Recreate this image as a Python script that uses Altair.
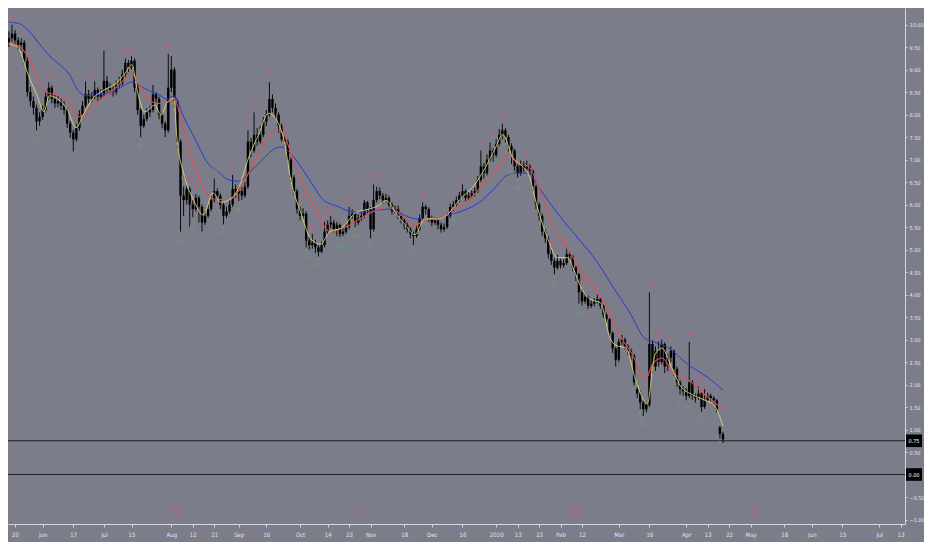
import altair as alt
import pandas as pd

# ---------------- data ----------------
opens = [9.60, 9.70, 9.80, 9.65, 9.55, 9.60, 9.20, 8.50, 8.30, 8.15,
         7.85, 7.95, 8.10, 8.40, 8.60, 8.35, 8.25, 8.30, 8.20, 8.10,
         7.80, 7.60, 7.45, 7.70, 8.00, 8.20, 8.45, 8.35, 8.40, 8.55,
         8.40, 8.45, 8.75, 8.60, 8.55, 8.50, 8.65, 8.70, 8.90, 9.15,
         9.05, 9.20, 8.60, 8.10, 7.75, 7.90, 8.05, 8.10, 8.45, 8.35,
         8.00, 7.80, 7.65, 8.60, 9.00, 8.30, 7.40, 6.20, 6.10, 6.35,
         6.00, 5.90, 6.15, 5.95, 5.60, 5.75, 5.90, 6.10, 6.30, 6.20,
         6.00, 5.75, 5.85, 6.00, 6.35, 6.25, 6.30, 6.20, 6.40, 7.40,
         7.20, 7.55, 7.40, 7.55, 7.85, 8.00, 8.35, 8.15, 8.00, 7.75,
         7.45, 7.40, 7.00, 6.60, 6.30, 5.90, 5.75, 5.80, 5.20, 5.10,
         5.15, 5.05, 4.95, 5.10, 5.40, 5.55, 5.60, 5.45, 5.55, 5.35,
         5.40, 5.50, 5.75, 5.80, 5.60, 5.70, 5.75, 6.05, 5.90, 5.45,
         6.10, 6.30, 6.20, 6.10, 6.15, 6.00, 5.85, 5.90, 5.75, 5.65,
         5.55, 5.45, 5.35, 5.30, 5.45, 5.70, 5.95, 5.90, 5.70, 5.60,
         5.65, 5.55, 5.45, 5.50, 5.75, 5.95, 6.00, 6.10, 6.20, 6.30,
         6.15, 6.20, 6.25, 6.30, 6.55, 6.85, 6.70, 7.00, 7.20, 7.10,
         7.35, 7.55, 7.65, 7.50, 7.30, 7.20, 6.85, 6.70, 6.90, 6.80,
         6.85, 6.75, 6.40, 6.00, 5.75, 5.40, 5.25, 4.90, 4.75, 4.60,
         4.75, 4.65, 4.70, 4.90, 4.85, 4.60, 4.45, 4.05, 3.85, 3.95,
         3.75, 3.80, 3.85, 3.90, 3.75, 3.55, 3.45, 3.15, 2.80, 2.55,
         2.95, 3.00, 2.85, 2.75, 2.65, 1.90, 1.80, 1.60, 1.45, 1.55,
         2.90, 2.40, 2.75, 2.50, 2.90, 2.40, 2.60, 2.75, 2.35, 2.05,
         1.90, 1.85, 1.75, 2.05, 1.75, 1.70, 1.80, 1.50, 1.65, 1.75,
         1.70, 1.65, 1.05, 0.90]

closes = [9.70, 9.80, 9.65, 9.55, 9.60, 9.20, 8.50, 8.30, 8.15, 7.85,
          7.95, 8.10, 8.40, 8.60, 8.35, 8.25, 8.30, 8.20, 8.10, 7.80,
          7.60, 7.45, 7.70, 8.00, 8.20, 8.45, 8.35, 8.40, 8.55, 8.40,
          8.45, 8.75, 8.60, 8.55, 8.50, 8.65, 8.70, 8.90, 9.15, 9.05,
          9.20, 8.60, 8.10, 7.75, 7.90, 8.05, 8.10, 8.45, 8.35, 8.00,
          7.80, 7.65, 8.60, 9.00, 8.30, 7.40, 6.20, 6.10, 6.35, 6.00,
          5.90, 6.15, 5.95, 5.60, 5.75, 5.90, 6.10, 6.30, 6.20, 6.00,
          5.75, 5.85, 6.00, 6.35, 6.25, 6.30, 6.20, 6.40, 7.40, 7.20,
          7.55, 7.40, 7.55, 7.85, 8.00, 8.35, 8.15, 8.00, 7.75, 7.45,
          7.40, 7.00, 6.60, 6.30, 5.90, 5.75, 5.80, 5.20, 5.10, 5.15,
          5.05, 4.95, 5.10, 5.40, 5.55, 5.60, 5.45, 5.55, 5.35, 5.40,
          5.50, 5.75, 5.80, 5.60, 5.70, 5.75, 6.05, 5.90, 5.45, 6.10,
          6.30, 6.20, 6.10, 6.15, 6.00, 5.85, 5.90, 5.75, 5.65, 5.55,
          5.45, 5.35, 5.30, 5.45, 5.70, 5.95, 5.90, 5.70, 5.60, 5.65,
          5.55, 5.45, 5.50, 5.75, 5.95, 6.00, 6.10, 6.20, 6.30, 6.15,
          6.20, 6.25, 6.30, 6.55, 6.85, 6.70, 7.00, 7.20, 7.10, 7.35,
          7.55, 7.65, 7.50, 7.30, 7.20, 6.85, 6.70, 6.90, 6.80, 6.85,
          6.75, 6.40, 6.00, 5.75, 5.40, 5.25, 4.90, 4.75, 4.60, 4.75,
          4.65, 4.70, 4.90, 4.85, 4.60, 4.45, 4.05, 3.85, 3.95, 3.75,
          3.80, 3.85, 3.90, 3.75, 3.55, 3.45, 3.15, 2.80, 2.55, 2.95,
          3.00, 2.85, 2.75, 2.65, 2.05, 1.80, 1.60, 1.45, 1.55, 2.90,
          2.40, 2.75, 2.50, 2.90, 2.40, 2.60, 2.75, 2.35, 2.05, 1.90,
          1.85, 1.75, 2.05, 1.75, 1.70, 1.80, 1.50, 1.65, 1.75, 1.70,
          1.65, 1.45, 0.90, 0.78]

highs = [9.85, 10.00, 9.88, 9.72, 9.70, 9.66, 9.28, 8.62, 8.40, 8.22,
         8.05, 8.20, 8.50, 8.72, 8.65, 8.45, 8.42, 8.36, 8.30, 8.15,
         7.86, 7.66, 7.80, 8.10, 8.30, 8.74, 8.55, 8.50, 8.74, 8.60,
         8.56, 9.42, 8.86, 8.70, 8.65, 8.76, 8.84, 9.00, 9.25, 9.22,
         9.30, 9.25, 8.66, 8.15, 8.00, 8.15, 8.20, 8.66, 8.50, 8.40,
         8.05, 7.85, 9.35, 9.30, 9.05, 8.35, 7.45, 6.40, 6.42, 6.40,
         6.10, 6.24, 6.20, 6.00, 5.85, 6.00, 6.20, 6.58, 6.36, 6.25,
         6.05, 5.95, 6.10, 6.66, 6.45, 6.40, 6.40, 6.50, 7.65, 7.48,
         8.05, 7.70, 7.75, 7.95, 8.10, 8.72, 8.45, 8.25, 8.05, 7.80,
         7.52, 7.45, 7.05, 6.65, 6.35, 5.95, 5.92, 5.85, 5.28, 5.35,
         5.22, 5.10, 5.18, 5.62, 5.65, 5.75, 5.66, 5.62, 5.58, 5.48,
         5.58, 5.95, 5.90, 5.84, 5.78, 5.85, 6.10, 6.08, 5.95, 6.45,
         6.40, 6.38, 6.26, 6.24, 6.20, 6.05, 5.98, 5.98, 5.82, 5.70,
         5.60, 5.50, 5.40, 5.52, 5.78, 6.05, 6.00, 5.94, 5.76, 5.72,
         5.70, 5.60, 5.58, 5.82, 6.02, 6.08, 6.18, 6.28, 6.45, 6.34,
         6.28, 6.32, 6.38, 6.64, 7.20, 6.92, 7.12, 7.38, 7.26, 7.45,
         7.68, 7.80, 7.70, 7.55, 7.36, 7.24, 6.92, 6.98, 6.96, 6.98,
         6.90, 6.78, 6.44, 6.05, 5.80, 5.46, 5.30, 5.00, 4.80, 4.88,
         4.80, 4.78, 5.02, 4.96, 4.88, 4.64, 4.48, 4.12, 4.02, 3.98,
         3.88, 3.92, 4.00, 3.94, 3.78, 3.60, 3.48, 3.18, 2.84, 3.02,
         3.10, 3.04, 2.90, 2.80, 2.68, 1.95, 1.86, 1.66, 1.62, 4.05,
         2.98, 2.85, 2.96, 3.00, 2.94, 2.68, 2.85, 2.78, 2.40, 2.10,
         1.96, 1.92, 2.95, 2.10, 1.80, 1.95, 1.84, 1.90, 1.82, 1.80,
         1.74, 1.68, 1.08, 0.95]

lows = [9.50, 9.62, 9.55, 9.45, 9.42, 9.10, 8.40, 8.18, 8.00, 7.65,
        7.75, 7.88, 8.05, 8.33, 8.25, 8.15, 8.16, 8.10, 8.00, 7.70,
        7.48, 7.18, 7.40, 7.64, 7.94, 8.15, 8.25, 8.28, 8.34, 8.30,
        8.34, 8.40, 8.50, 8.45, 8.40, 8.44, 8.60, 8.64, 8.84, 8.95,
        9.00, 8.50, 8.00, 7.50, 7.70, 7.85, 7.95, 8.05, 8.25, 7.90,
        7.70, 7.50, 7.60, 8.50, 8.15, 7.25, 5.40, 5.75, 6.00, 5.50,
        5.72, 5.85, 5.60, 5.40, 5.55, 5.70, 5.85, 6.05, 6.10, 5.90,
        5.56, 5.70, 5.80, 5.95, 6.15, 6.08, 6.10, 6.15, 6.35, 7.05,
        7.15, 7.30, 7.35, 7.50, 7.75, 7.95, 8.05, 7.90, 7.60, 7.40,
        7.30, 6.90, 6.50, 6.20, 5.80, 5.65, 5.68, 5.05, 5.00, 5.02,
        4.92, 4.85, 4.92, 5.05, 5.35, 5.48, 5.38, 5.30, 5.28, 5.30,
        5.35, 5.45, 5.68, 5.50, 5.55, 5.64, 5.70, 5.80, 5.25, 5.40,
        6.05, 6.12, 6.02, 6.05, 5.92, 5.78, 5.80, 5.68, 5.58, 5.45,
        5.38, 5.25, 5.10, 5.26, 5.42, 5.66, 5.78, 5.62, 5.52, 5.55,
        5.45, 5.38, 5.40, 5.46, 5.70, 5.85, 5.96, 6.05, 6.15, 6.08,
        6.10, 6.14, 6.18, 6.26, 6.50, 6.58, 6.65, 6.95, 6.95, 7.05,
        7.30, 7.45, 7.38, 7.18, 6.90, 6.75, 6.60, 6.64, 6.72, 6.74,
        6.66, 6.30, 5.90, 5.65, 5.30, 5.15, 4.80, 4.66, 4.45, 4.56,
        4.58, 4.60, 4.66, 4.76, 4.52, 4.30, 3.80, 3.76, 3.80, 3.68,
        3.70, 3.74, 3.80, 3.68, 3.48, 3.38, 3.05, 2.70, 2.40, 2.50,
        2.88, 2.78, 2.66, 2.55, 1.98, 1.70, 1.45, 1.30, 1.38, 1.50,
        2.25, 2.30, 2.40, 2.45, 2.25, 2.30, 2.50, 2.20, 1.95, 1.78,
        1.75, 1.65, 1.70, 1.66, 1.60, 1.66, 1.40, 1.46, 1.62, 1.62,
        1.55, 1.38, 0.80, 0.70]

# moving averages (bar index, price)
slow_idx = [0, 3.5, 6.1, 10.2, 13.4, 16.6, 19.7, 22.6, 25.2, 28.3,
            31.5, 34.7, 37.9, 40.4, 42.7, 45.9, 49.0, 51.6, 53.8, 57.0,
            61.1, 64.3, 68.8, 72.0, 75.2, 78.3, 82.5, 86.6, 88.9, 91.1,
            95.2, 99.4, 102.5, 108.0, 110.2, 115.3, 119.7, 123.9, 128.0, 133.4,
            138.9, 143.9, 149.4, 153.5, 158.0, 162.1, 165.3, 169.4, 172.6, 177.1,
            181.2, 186.6, 191.7, 197.1, 202.5, 207.6, 209.9, 215.3, 221.7, 228.0,
            233.0]
slow_val = [10.06, 10.02, 9.89, 9.55, 9.29, 9.11, 8.90, 8.53, 8.42, 8.44,
            8.47, 8.53, 8.66, 8.73, 8.64, 8.53, 8.44, 8.34, 8.42, 7.95,
            7.41, 6.98, 6.70, 6.54, 6.52, 6.70, 6.98, 7.24, 7.28, 7.19,
            6.85, 6.41, 6.11, 5.94, 5.87, 5.83, 5.87, 5.90, 5.79, 5.68,
            5.68, 5.77, 5.90, 6.05, 6.33, 6.63, 6.70, 6.70, 6.41, 5.98,
            5.62, 5.18, 4.75, 4.17, 3.61, 3.02, 2.96, 2.81, 2.44, 2.16,
            1.88]

mid_idx = [0, 3.8, 6.1, 9.2, 11.5, 13.4, 16.6, 19.7, 22.6, 24.2,
           27.4, 30.6, 33.8, 36.9, 40.1, 42.0, 45.2, 48.4, 51.6, 53.8,
           56.1, 59.2, 62.4, 65.6, 68.8, 72.0, 75.2, 79.3, 83.4, 87.3,
           89.8, 92.0, 95.2, 99.4, 102.5, 104.8, 108.0, 110.2, 115.3, 119.7,
           123.9, 128.0, 132.5, 136.6, 140.8, 145.2, 150.3, 155.7, 159.9, 162.7,
           166.2, 169.4, 173.9, 178.0, 182.2, 186.6, 190.8, 194.9, 199.4, 203.5,
           207.6, 209.9, 213.1, 217.2, 221.7, 226.8, 233.0]
mid_val = [9.61, 9.50, 9.29, 8.86, 8.53, 8.47, 8.42, 8.27, 7.95, 7.99,
           8.21, 8.36, 8.53, 8.73, 8.92, 8.75, 8.38, 8.25, 8.27, 8.38,
           7.93, 7.13, 6.54, 6.16, 6.11, 6.11, 6.33, 6.85, 7.39, 7.67,
           7.56, 7.13, 6.54, 5.98, 5.55, 5.40, 5.46, 5.51, 5.72, 5.87,
           5.94, 5.77, 5.55, 5.68, 5.72, 5.90, 6.11, 6.54, 6.85, 7.13,
           6.91, 6.85, 6.20, 5.46, 5.03, 4.54, 4.17, 3.74, 3.09, 2.66,
           2.10, 2.44, 2.59, 2.22, 2.10, 1.79, 1.45]

fast_idx = [0, 2.9, 6.1, 9.2, 11.5, 13.1, 15.6, 18.8, 22.0, 24.2,
            27.4, 30.6, 34.7, 37.9, 40.1, 42.0, 44.3, 47.5, 49.7, 51.6,
            53.8, 54.8, 57.0, 60.2, 63.4, 66.6, 69.1, 72.0, 75.2, 78.3,
            81.5, 84.7, 86.6, 89.8, 92.0, 95.2, 98.4, 101.6, 104.8, 108.5,
            113.4, 117.5, 120.7, 123.2, 126.1, 129.3, 132.5, 135.7, 139.8, 143.0,
            147.1, 151.6, 155.7, 158.9, 161.1, 164.3, 167.5, 169.4, 172.6, 175.8,
            179.0, 182.2, 184.4, 186.6, 189.8, 193.0, 196.2, 198.1, 201.3, 204.5,
            208.3, 210.8, 213.1, 216.2, 219.4, 222.6, 226.8, 230.0, 233.0]
fast_val = [9.57, 9.50, 8.92, 8.42, 8.06, 8.42, 8.36, 8.14, 7.71, 7.99,
            8.36, 8.53, 8.68, 8.92, 9.11, 8.49, 8.06, 8.21, 7.99, 8.27,
            8.36, 7.49, 6.70, 6.11, 5.77, 6.26, 6.05, 6.11, 6.41, 7.06,
            7.56, 8.03, 7.95, 7.41, 6.54, 5.83, 5.25, 5.12, 5.40, 5.48,
            5.83, 5.90, 5.98, 6.09, 5.83, 5.55, 5.33, 5.68, 5.68, 5.77,
            6.11, 6.41, 6.85, 7.28, 7.56, 7.06, 6.85, 6.70, 5.90, 5.25,
            4.82, 4.82, 4.54, 4.17, 3.89, 3.82, 3.02, 2.87, 2.81, 2.10,
            1.58, 2.66, 2.81, 2.38, 1.94, 1.79, 1.66, 1.55, 1.08]

# pivot labels
hi_idx = [1, 13, 25, 28, 31, 38, 40, 47, 52, 57, 59, 61, 67, 73, 78, 80, 85, 90,
          96, 99, 103, 105, 111, 116, 119, 128, 135, 148, 154, 157, 161, 169,
          177, 179, 182, 187, 192, 205, 209, 212, 216, 222, 225, 227]
hi_text = ["HH", "LH", "LH", "LH", "HH", "LH", "LH", "LH", "LH", "LH", "LH", "LH",
           "HH", "HH", "HH", "HH", "HH", "LH", "LH", "LH", "HH", "HH", "HH", "HH",
           "HH", "LH", "LH", "HH", "HH", "HH", "HH", "LH", "LH", "LH", "HH", "LH",
           "LH", "LH", "HH", "LH", "LH", "HH", "LH", "LH"]
lo_idx = [9, 21, 43, 56, 60, 63, 70, 75, 97, 101, 107, 109, 113, 118, 132, 136,
          145, 164, 166, 178, 186, 198, 206, 207, 219, 222, 226, 232]
lo_text = ["LL", "LL", "HL", "LL", "HL", "LL", "HL", "HL", "LL", "LL", "HL", "HL",
           "HL", "LL", "LL", "HL", "HL", "HL", "HL", "LL", "LL", "LL", "LL", "LL",
           "HL", "HL", "LL", "LL"]

# earnings markers (bar index)
event_idx = [55, 114, 185, 244]

# horizontal price levels
level_vals = [0.75, 0.00]
level_text = ["0.75", "0.00"]

# axis ticks
x_tick_idx = [2, 11, 21, 31, 40, 53, 60, 67, 75, 84, 95, 104, 111, 118, 129, 138,
              148, 159, 166, 173, 180, 187, 199, 209, 221, 228, 235, 242, 253,
              262, 272, 284, 291]
x_tick_lab = ["20", "Jun", "17", "Jul", "15", "Aug", "12", "21", "Sep", "16", "Oct",
              "14", "23", "Nov", "18", "Dec", "16", "2020", "13", "23", "Feb", "12",
              "Mar", "16", "Apr", "13", "22", "May", "18", "Jun", "15", "Jul", "13"]
y_ticks = [-1.0, -0.5, 0.5, 1.0, 1.5, 2.0, 2.5, 3.0, 3.5, 4.0, 4.5, 5.0,
           5.5, 6.0, 6.5, 7.0, 7.5, 8.0, 8.5, 9.0, 9.5, 10.0]

# ---------------- chart ----------------
W, H = 897, 516
BG = "#7b7e8a"
FONT = "DejaVu Sans Condensed"
AX = "#d6d7db"

xs = alt.Scale(domain=[-0.3, 292.4], nice=False, zero=False)
ys = alt.Scale(domain=[-1.10, 10.37], nice=False, zero=False)

lab_expr = "{}[indexof({}, datum.value)]".format(
    "[" + ",".join("'%s'" % s for s in x_tick_lab) + "]",
    "[" + ",".join(str(v) for v in x_tick_idx) + "]")

x_axis = alt.Axis(values=x_tick_idx, labelExpr=lab_expr, orient="bottom", grid=False,
                  title=None, labelFont=FONT, labelFontSize=6, labelColor="#e4e5e8",
                  domainColor=AX, tickColor=AX, tickSize=3, labelPadding=4,
                  labelFlush=False, labelOverlap=False)
y_axis = alt.Axis(values=y_ticks, format=".2f", orient="right", grid=False, title=None,
                  labelFont=FONT, labelFontSize=5.5, labelColor="#e4e5e8",
                  domainColor=AX, tickColor=AX, tickSize=2, labelPadding=2,
                  labelOverlap=False)


def X(field):
    return alt.X(field, scale=xs, axis=x_axis)


def Y(field):
    return alt.Y(field, scale=ys, axis=y_axis)


candles = pd.DataFrame({"i": list(range(len(closes))), "o": opens, "c": closes,
                        "h": highs, "l": lows})
base = alt.Chart(candles)
wicks = base.mark_rule(color="#0c0c0e", strokeWidth=1).encode(
    x=X("i:Q"), y=Y("l:Q"), y2="h:Q")
bodies = base.mark_rule(color="#000000", strokeWidth=2.4).encode(
    x=X("i:Q"), y=Y("o:Q"), y2="c:Q")


def ma_line(idx, val, color, width):
    df = pd.DataFrame({"i": idx, "v": val})
    return alt.Chart(df).mark_line(color=color, strokeWidth=width,
                                   interpolate="monotone").encode(
        x=X("i:Q"), y=Y("v:Q"))


slow = ma_line(slow_idx, slow_val, "#2a38d6", 1.0)
mid = ma_line(mid_idx, mid_val, "#e24f4f", 1.1)
fast = ma_line(fast_idx, fast_val, "#dcd86a", 0.9)

hi_df = pd.DataFrame({"i": hi_idx, "t": hi_text, "p": [highs[k] for k in hi_idx]})
lo_df = pd.DataFrame({"i": lo_idx, "t": lo_text, "p": [lows[k] for k in lo_idx]})
RED, GREEN = "#c9567c", "#5fa56d"

hi_txt = alt.Chart(hi_df).mark_text(fontSize=5, font=FONT, color=RED, dy=-9).encode(
    x=X("i:Q"), y=Y("p:Q"), text="t:N")
hi_dot = alt.Chart(hi_df).mark_circle(size=3, color=RED, opacity=1, yOffset=-3).encode(
    x=X("i:Q"), y=Y("p:Q"))
lo_txt = alt.Chart(lo_df).mark_text(fontSize=5, font=FONT, color=GREEN, dy=9).encode(
    x=X("i:Q"), y=Y("p:Q"), text="t:N")
lo_dot = alt.Chart(lo_df).mark_circle(size=3, color=GREEN, opacity=1, yOffset=3).encode(
    x=X("i:Q"), y=Y("p:Q"))

ev_df = pd.DataFrame({"i": event_idx})
events = alt.Chart(ev_df).mark_point(shape="circle", size=110, filled=True,
                                     fill="#c9628a", fillOpacity=0.18,
                                     stroke="#d0577f", strokeWidth=1, strokeOpacity=0.45
                                     ).encode(x=X("i:Q"), y=alt.value(H - 13))

lv_df = pd.DataFrame({"v": level_vals, "t": level_text})
levels = alt.Chart(lv_df).mark_rule(color="#1f1f22", strokeWidth=1).encode(y=Y("v:Q"))
lv_box = alt.Chart(lv_df).transform_calculate(
    a="datum.v - 0.14", b="datum.v + 0.14").mark_rect(color="#000000", clip=False).encode(
    x=alt.value(W + 1), x2=alt.value(W + 17), y=Y("a:Q"), y2="b:Q")
lv_txt = alt.Chart(lv_df).mark_text(color="#ffffff", fontSize=5.5, font=FONT,
                                    align="center", clip=False).encode(
    x=alt.value(W + 9), y=Y("v:Q"), text="t:N")

chart = alt.layer(
    events, levels, wicks, bodies, slow, mid, fast,
    hi_txt, hi_dot, lo_txt, lo_dot, lv_box, lv_txt
).properties(
    width=W, height=H,
    padding={"left": 0, "top": 0, "right": 19, "bottom": 18},
    autosize=alt.AutoSizeParams(type="none"),
    background=BG,
).configure_view(stroke=None, fill=BG)

chart.save("out.html", embed_options={"renderer": "svg", "actions": False})
